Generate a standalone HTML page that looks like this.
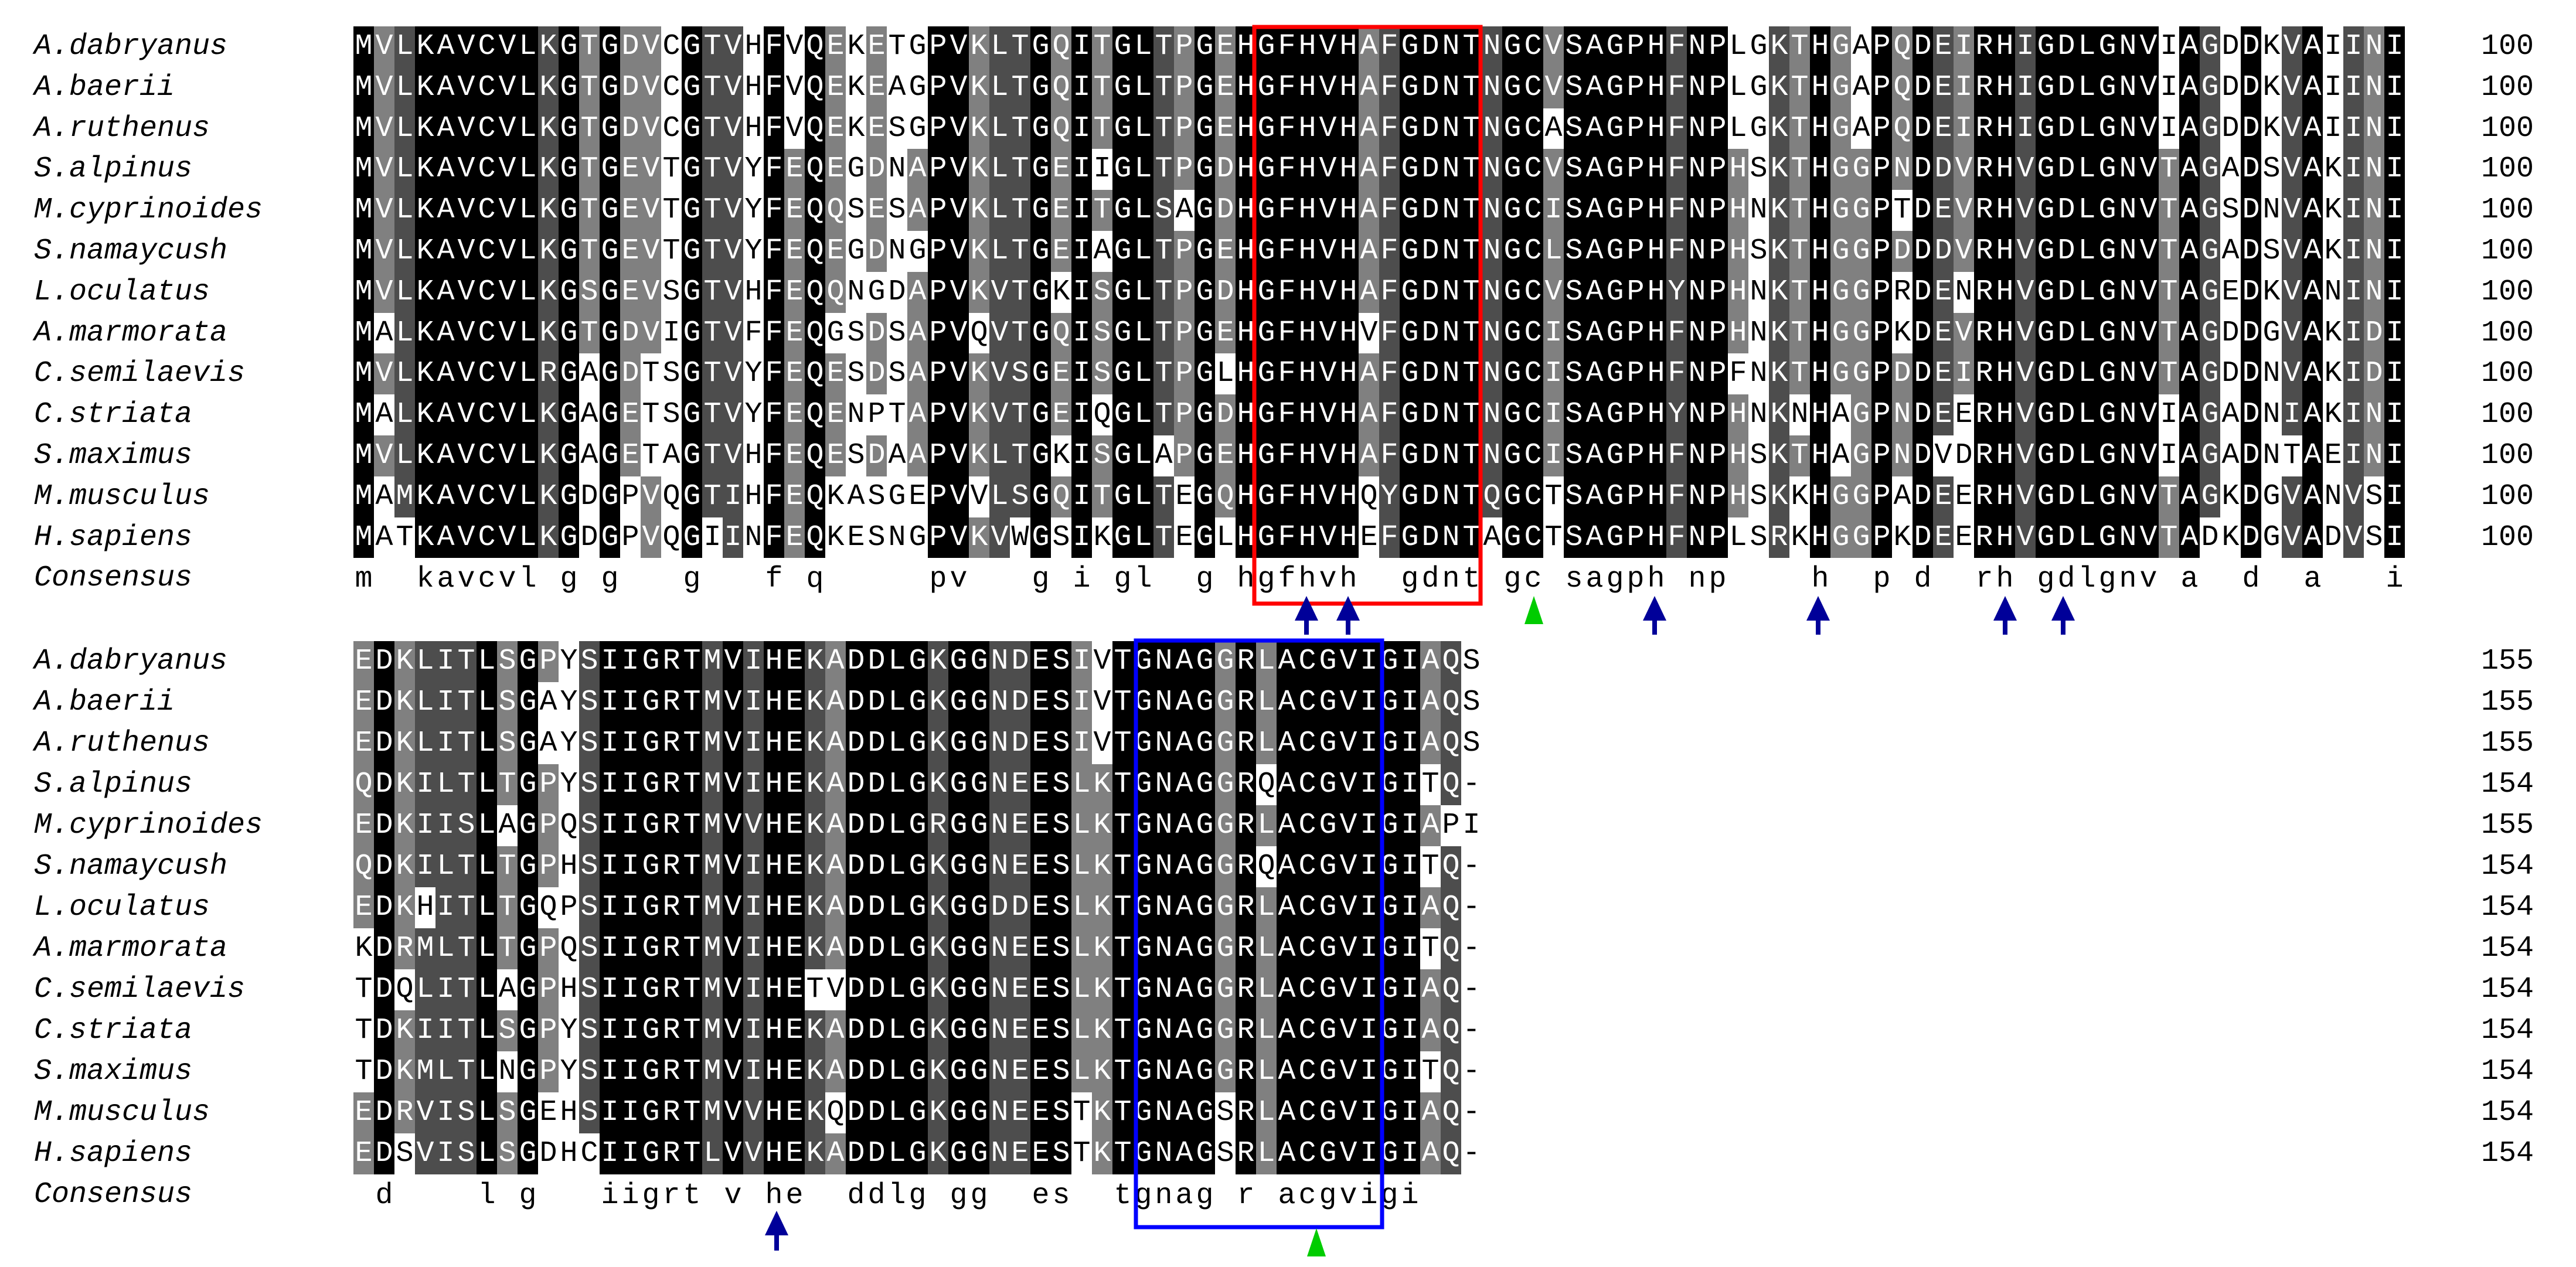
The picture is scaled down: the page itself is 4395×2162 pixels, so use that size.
<!DOCTYPE html>
<html><head><meta charset="utf-8">
<style>
html,body{margin:0;padding:0;background:#fff;}
#c{position:relative;width:4395px;height:2162px;overflow:hidden;background:#fff;font-family:"Liberation Mono",monospace;}
.l{position:absolute;left:58px;font-style:italic;font-size:50px;color:#000;line-height:70px;white-space:pre;}
.n{position:absolute;left:4233px;font-size:50px;color:#000;line-height:70px;}
.k{position:absolute;width:35px;text-align:center;font-size:50px;line-height:70px;}
</style></head><body>
<div id="c"></div>
<svg style="position:absolute;left:0;top:0" width="4395" height="2162" id="ov">
<rect x="2140" y="46" width="386" height="984" fill="none" stroke="#ff0000" stroke-width="7"/>
<rect x="1938" y="1093" width="420" height="1001" fill="none" stroke="#0000ff" stroke-width="7"/>
<g fill="#000099">
<path d="M2229 1017 l-20 42 h16 v24 h8 v-24 h16 z"/>
<path d="M2300 1017 l-20 42 h16 v24 h8 v-24 h16 z"/>
<path d="M2823 1017 l-20 42 h16 v24 h8 v-24 h16 z"/>
<path d="M3102 1017 l-20 42 h16 v24 h8 v-24 h16 z"/>
<path d="M3421 1017 l-20 42 h16 v24 h8 v-24 h16 z"/>
<path d="M3520 1017 l-20 42 h16 v24 h8 v-24 h16 z"/>
<path d="M1325 2066 l-20 42 h16 v26 h8 v-26 h16 z"/>
</g>
<g fill="#00cc00">
<path d="M2617 1017 l-16 48 h32 z"/>
<path d="M2246 2096 l-16 48 h32 z"/>
</g>
</svg>
<script>
var names=["A.dabryanus","A.baerii","A.ruthenus","S.alpinus","M.cyprinoides","S.namaycush","L.oculatus","A.marmorata","C.semilaevis","C.striata","S.maximus","M.musculus","H.sapiens"];
var b1=[
"MVLKAVCVLKGTGDVCGTVHFVQEKETGPVKLTGQITGLTPGEHGFHVHAFGDNTNGCVSAGPHFNPLGKTHGAPQDEIRHIGDLGNVIAGDDKVAIINI",
"MVLKAVCVLKGTGDVCGTVHFVQEKEAGPVKLTGQITGLTPGEHGFHVHAFGDNTNGCVSAGPHFNPLGKTHGAPQDEIRHIGDLGNVIAGDDKVAIINI",
"MVLKAVCVLKGTGDVCGTVHFVQEKESGPVKLTGQITGLTPGEHGFHVHAFGDNTNGCASAGPHFNPLGKTHGAPQDEIRHIGDLGNVIAGDDKVAIINI",
"MVLKAVCVLKGTGEVTGTVYFEQEGDNAPVKLTGEIIGLTPGDHGFHVHAFGDNTNGCVSAGPHFNPHSKTHGGPNDDVRHVGDLGNVTAGADSVAKINI",
"MVLKAVCVLKGTGEVTGTVYFEQQSESAPVKLTGEITGLSAGDHGFHVHAFGDNTNGCISAGPHFNPHNKTHGGPTDEVRHVGDLGNVTAGSDNVAKINI",
"MVLKAVCVLKGTGEVTGTVYFEQEGDNGPVKLTGEIAGLTPGEHGFHVHAFGDNTNGCLSAGPHFNPHSKTHGGPDDDVRHVGDLGNVTAGADSVAKINI",
"MVLKAVCVLKGSGEVSGTVHFEQQNGDAPVKVTGKISGLTPGDHGFHVHAFGDNTNGCVSAGPHYNPHNKTHGGPRDENRHVGDLGNVTAGEDKVANINI",
"MALKAVCVLKGTGDVIGTVFFEQGSDSAPVQVTGQISGLTPGEHGFHVHVFGDNTNGCISAGPHFNPHNKTHGGPKDEVRHVGDLGNVTAGDDGVAKIDI",
"MVLKAVCVLRGAGDTSGTVYFEQESDSAPVKVSGEISGLTPGLHGFHVHAFGDNTNGCISAGPHFNPFNKTHGGPDDEIRHVGDLGNVTAGDDNVAKIDI",
"MALKAVCVLKGAGETSGTVYFEQENPTAPVKVTGEIQGLTPGDHGFHVHAFGDNTNGCISAGPHYNPHNKNHAGPNDEERHVGDLGNVIAGADNIAKINI",
"MVLKAVCVLKGAGETAGTVHFEQESDAAPVKLTGKISGLAPGEHGFHVHAFGDNTNGCISAGPHFNPHSKTHAGPNDVDRHVGDLGNVIAGADNTAEINI",
"MAMKAVCVLKGDGPVQGTIHFEQKASGEPVVLSGQITGLTEGQHGFHVHQYGDNTQGCTSAGPHFNPHSKKHGGPADEERHVGDLGNVTAGKDGVANVSI",
"MATKAVCVLKGDGPVQGIINFEQKESNGPVKVWGSIKGLTEGLHGFHVHEFGDNTAGCTSAGPHFNPLSRKHGGPKDEERHVGDLGNVTADKDGVADVSI"];
var b2=[
"EDKLITLSGPYSIIGRTMVIHEKADDLGKGGNDESIVTGNAGGRLACGVIGIAQS",
"EDKLITLSGAYSIIGRTMVIHEKADDLGKGGNDESIVTGNAGGRLACGVIGIAQS",
"EDKLITLSGAYSIIGRTMVIHEKADDLGKGGNDESIVTGNAGGRLACGVIGIAQS",
"QDKILTLTGPYSIIGRTMVIHEKADDLGKGGNEESLKTGNAGGRQACGVIGITQ-",
"EDKIISLAGPQSIIGRTMVVHEKADDLGRGGNEESLKTGNAGGRLACGVIGIAPI",
"QDKILTLTGPHSIIGRTMVIHEKADDLGKGGNEESLKTGNAGGRQACGVIGITQ-",
"EDKHITLTGQPSIIGRTMVIHEKADDLGKGGDDESLKTGNAGGRLACGVIGIAQ-",
"KDRMLTLTGPQSIIGRTMVIHEKADDLGKGGNEESLKTGNAGGRLACGVIGITQ-",
"TDQLITLAGPHSIIGRTMVIHETVDDLGKGGNEESLKTGNAGGRLACGVIGIAQ-",
"TDKIITLSGPYSIIGRTMVIHEKADDLGKGGNEESLKTGNAGGRLACGVIGIAQ-",
"TDKMLTLNGPYSIIGRTMVIHEKADDLGKGGNEESLKTGNAGGRLACGVIGITQ-",
"EDRVISLSGEHSIIGRTMVVHEKQDDLGKGGNEESTKTGNAGSRLACGVIGIAQ-",
"EDSVISLSGDHCIIGRTLVVHEKADDLGKGGNEESTKTGNAGSRLACGVIGIAQ-"];
var groups=["ILVM","KRH","DENQ","ST","FYW"];
function grp(a){for(var i=0;i<groups.length;i++)if(groups[i].indexOf(a)>=0)return i;return "x"+a;}
var c=document.getElementById('c');var h=[];
function block(seqs,top,pitch,num){
  var L=seqs[0].length;
  for(var r=0;r<13;r++){
    var y=top+r*pitch;
    h.push('<div class="l" style="top:'+y+'px;height:'+pitch+'px;line-height:'+pitch+'px">'+names[r]+'</div>');
    h.push('<div class="n" style="top:'+y+'px;line-height:'+pitch+'px">'+num[r]+'</div>');
  }
  var cs="";
  for(var j=0;j<L;j++){
    var cnt={};for(var r=0;r<13;r++){var a=seqs[r][j];cnt[a]=(cnt[a]||0)+1;}
    var best=null,bn=0;for(var a in cnt){if(a!='-'&&cnt[a]>bn){bn=cnt[a];best=a;}}
    var g=grp(best),s=0;
    for(var r=0;r<13;r++){var a=seqs[r][j];if(a!='-'&&grp(a)===g)s++;}
    cs+=(bn==13)?best.toLowerCase():" ";
    for(var r=0;r<13;r++){
      var a=seqs[r][j],bg="#fff",fg="#000";
      if(a!='-'&&grp(a)===g){
        if(bn==13){bg="#000";fg="#fff";}
        else if(s>=12){bg="#4d4d4d";fg="#fff";}
        else if(s>=7){bg="#808080";fg="#fff";}
      }
      var x=603+j*35,y=top+r*pitch;
      h.push('<div class="k" style="left:'+x+'px;top:'+y+'px;height:'+pitch+'px;line-height:'+pitch+'px;background:'+bg+';color:'+fg+'">'+a+'</div>');
    }
  }
  var y=top+13*pitch;
  h.push('<div class="l" style="top:'+y+'px;line-height:'+pitch+'px">Consensus</div>');
  for(var j=0;j<L;j++){if(cs[j]!=" ")h.push('<div class="k" style="left:'+(603+j*35)+'px;top:'+(y+2)+'px;line-height:'+pitch+'px;color:#000">'+cs[j]+'</div>');}
}
var n1=[],n2=[];for(var i=0;i<13;i++){n1.push(100);n2.push(b2[i].indexOf('-')>=0?154:155);}
block(b1,45,69.8,n1);
block(b2,1094,70,n2);
c.innerHTML=h.join('');
</script>
</body></html>
